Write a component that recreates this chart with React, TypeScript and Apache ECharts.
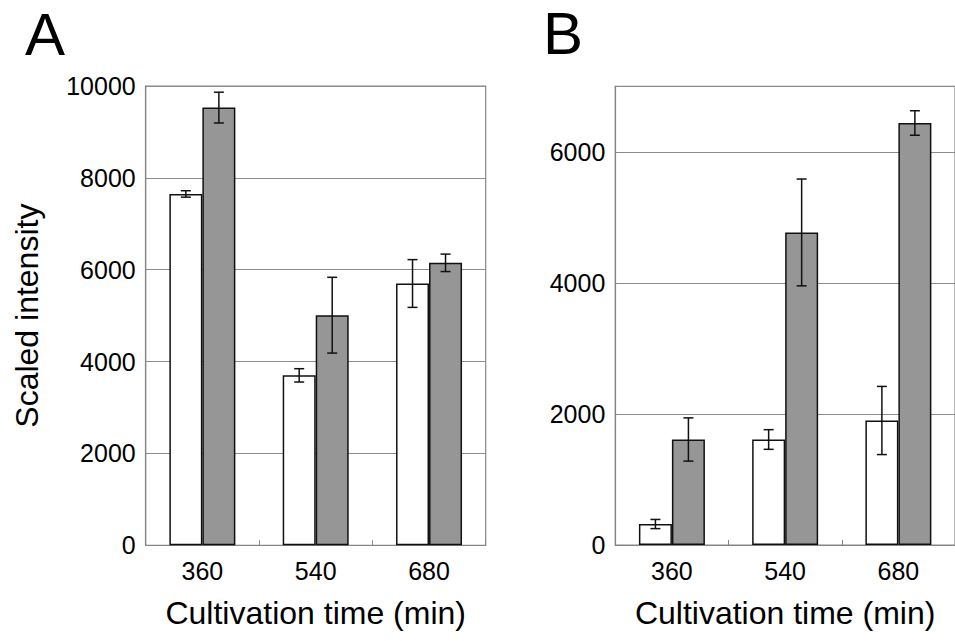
import React, { useEffect, useRef } from "react";
import * as echarts from "echarts";

const categories = ["360", "540", "680"];

const aWhite = [7650, 3700, 5700];
const aWhiteErr = [70, 145, 520];
const aGrey = [9530, 5010, 6150];
const aGreyErr = [335, 825, 190];

const bWhite = [320, 1610, 1900];
const bWhiteErr = [70, 150, 520];
const bGrey = [1610, 4770, 6440];
const bGreyErr = [330, 815, 187];

const aTicks = { min: 0, max: 10000, interval: 2000 };
const bTicks = { min: 0, max: 7000, interval: 2000 };

const FONT = "Liberation Sans, Arial, Helvetica, sans-serif";
const BAR_W = 33;

function errData(vals: number[], errs: number[]) {
  return vals.map((v, i) => [i, v, errs[i]]);
}

function makeErrSeries(idx: number, vals: number[], errs: number[], side: number) {
  return {
    type: "custom",
    xAxisIndex: idx,
    yAxisIndex: idx,
    z: 5,
    clip: false,
    silent: true,
    encode: { x: 0, y: 1 },
    data: errData(vals, errs),
    renderItem: (params: any, api: any) => {
      const c = api.value(0);
      const v = api.value(1);
      const e = api.value(2);
      const top = api.coord([c, v + e]);
      const bot = api.coord([c, v - e]);
      const x = top[0] + side * (BAR_W / 2);
      const cap = 5;
      const style = { stroke: "#111", lineWidth: 1.5 };
      return {
        type: "group",
        children: [
          { type: "line", shape: { x1: x, y1: top[1], x2: x, y2: bot[1] }, style },
          { type: "line", shape: { x1: x - cap, y1: top[1], x2: x + cap, y2: top[1] }, style },
          { type: "line", shape: { x1: x - cap, y1: bot[1], x2: x + cap, y2: bot[1] }, style },
        ],
      };
    },
  };
}

function barSeries(idx: number, vals: number[], color: string) {
  return {
    type: "bar",
    xAxisIndex: idx,
    yAxisIndex: idx,
    data: vals,
    barWidth: BAR_W,
    barGap: "0%",
    z: 3,
    itemStyle: { color, borderColor: "#111", borderWidth: 1.5 },
  };
}

const axisGray = "#858585";
const gridGray = "#8c8c8c";

function xAxis(idx: number) {
  return {
    type: "category",
    gridIndex: idx,
    data: categories,
    axisLine: { lineStyle: { color: axisGray, width: 1.2 } },
    axisTick: { show: true, inside: true, length: 5, lineStyle: { color: axisGray } },
    axisLabel: { color: "#000", fontSize: 25, fontFamily: FONT, margin: 13 },
    name: "Cultivation time (min)",
    nameLocation: "middle",
    nameGap: 52,
    nameTextStyle: { color: "#000", fontSize: 32, fontFamily: FONT },
  };
}

function yAxis(idx: number, t: { min: number; max: number; interval: number }, name: string) {
  return {
    type: "value",
    gridIndex: idx,
    min: t.min,
    max: t.max,
    interval: t.interval,
    axisLine: { show: true, lineStyle: { color: axisGray, width: 1.2 } },
    axisTick: { show: false },
    splitLine: { show: true, lineStyle: { color: gridGray, width: 1 } },
    axisLabel: {
      color: "#000",
      fontSize: 25,
      fontFamily: FONT,
      margin: 10,
      showMaxLabel: t.max % t.interval === 0,
      formatter: (v: number) => String(v),
    },
    name,
    nameLocation: "middle",
    nameGap: 103,
    nameTextStyle: { color: "#000", fontSize: 32, fontFamily: FONT },
  };
}

export default function App() {
  const ref = useRef<HTMLDivElement>(null);
  useEffect(() => {
    if (!ref.current) return;
    const chart = echarts.init(ref.current, null, { renderer: "svg" });
    chart.setOption({
      animation: false,
      backgroundColor: "#fff",
      grid: [
        { left: 145.7, top: 86, width: 340, height: 459.3, show: true, borderColor: axisGray, borderWidth: 1.2, backgroundColor: "transparent" },
        { left: 615.3, top: 86.3, width: 348, height: 458.7, show: true, borderColor: axisGray, borderWidth: 1.2, backgroundColor: "transparent" },
      ],
      xAxis: [xAxis(0), xAxis(1)],
      yAxis: [yAxis(0, aTicks, "Scaled intensity"), yAxis(1, bTicks, "")],
      series: [
        barSeries(0, aWhite, "#ffffff"),
        barSeries(0, aGrey, "#969696"),
        makeErrSeries(0, aWhite, aWhiteErr, -1),
        makeErrSeries(0, aGrey, aGreyErr, 1),
        barSeries(1, bWhite, "#ffffff"),
        barSeries(1, bGrey, "#969696"),
        makeErrSeries(1, bWhite, bWhiteErr, -1),
        makeErrSeries(1, bGrey, bGreyErr, 1),
      ],
      graphic: [
        {
          type: "text",
          x: 25,
          y: 34,
          style: { text: "A", fontSize: 60, fontFamily: FONT, fill: "#000", verticalAlign: "middle", align: "left" },
        },
        {
          type: "text",
          x: 543,
          y: 33,
          style: { text: "B", fontSize: 60, fontFamily: FONT, fill: "#000", verticalAlign: "middle", align: "left" },
        },
      ],
    });
    return () => chart.dispose();
  }, []);
  return (
    <div
      ref={ref}
      style={{ position: "fixed", left: 0, top: 0, width: 955, height: 641, background: "#fff" }}
    />
  );
}
